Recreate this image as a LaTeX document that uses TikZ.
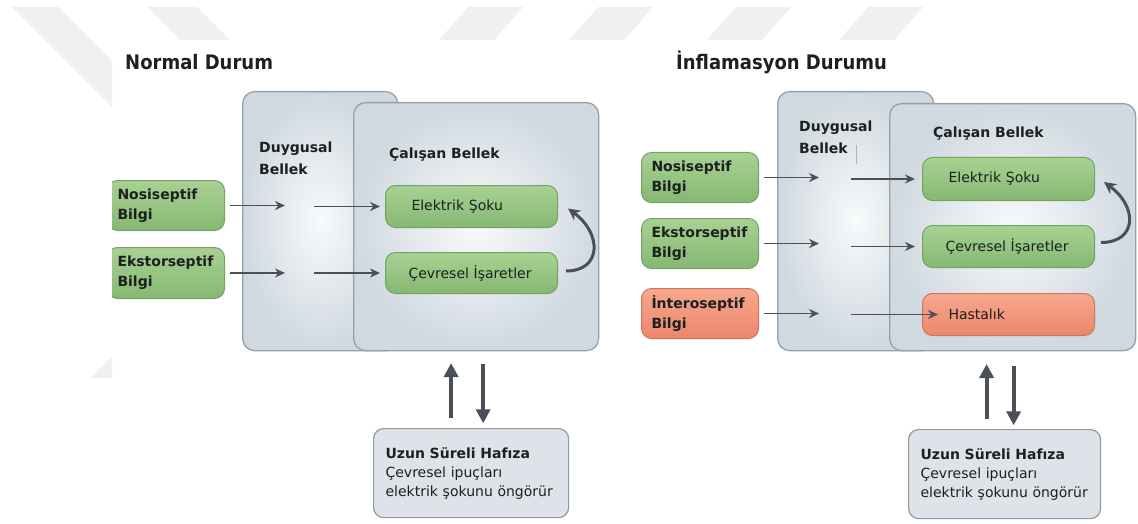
\documentclass[tikz,border=0pt]{standalone}
\usepackage{fontspec}
\setmainfont{DejaVu Sans}
\newfontfamily\condfont{DejaVu Sans Condensed}
\usetikzlibrary{arrows.meta}

\definecolor{wmgray}{RGB}{240,240,240}
\definecolor{memgray}{RGB}{208,217,224}
\definecolor{memlight}{RGB}{248,250,251}
\definecolor{memedge}{RGB}{150,160,168}
\definecolor{leaftop}{RGB}{168,209,148}
\definecolor{leafbot}{RGB}{134,184,114}
\definecolor{leafedge}{RGB}{116,162,98}
\definecolor{salmontop}{RGB}{247,168,142}
\definecolor{salmonbot}{RGB}{236,134,108}
\definecolor{salmonedge}{RGB}{204,118,98}
\definecolor{ltmfill}{RGB}{221,227,232}
\definecolor{ltmedge}{RGB}{145,152,158}
\definecolor{arrowgray}{RGB}{74,80,86}
\definecolor{inktext}{RGB}{28,32,30}

\tikzset{
  membox/.style={draw=memedge, line width=1.3pt, rounded corners=12pt,
    inner color=memlight, outer color=memgray, anchor=north west},
  memtitle/.style={font=\bfseries\fontsize{14}{22}\selectfont, text=inktext,
    align=left, inner sep=0pt},
  srcbox/.style={draw=leafedge, line width=1pt, rounded corners=10pt,
    top color=leaftop, bottom color=leafbot, anchor=north west,
    minimum width=117pt, minimum height=50pt, text width=97pt, inner xsep=10pt,
    align=left, font=\bfseries\fontsize{14}{20}\selectfont, text=inktext},
  painbox/.style={srcbox, draw=salmonedge, top color=salmontop, bottom color=salmonbot},
  itembox/.style={srcbox, minimum width=172pt, text width=120pt, inner xsep=26pt,
    font=\fontsize{14}{18}\selectfont},
  widetext/.style={text width=126pt, inner xsep=23pt},
  sickbox/.style={itembox, draw=salmonedge, top color=salmontop, bottom color=salmonbot},
  ltmbox/.style={draw=ltmedge, line width=1.2pt, rounded corners=10pt, fill=ltmfill,
    anchor=north west, minimum width=195pt, minimum height=89pt, text width=171pt,
    inner xsep=12pt, align=left, font=\fontsize{14}{19}\selectfont, text=inktext},
  headline/.style={font=\condfont\bfseries\fontsize{20}{24}\selectfont, text=inktext,
    anchor=base west, inner sep=0pt},
  flow/.style={draw=arrowgray, line width=1.9pt, -{Stealth[length=10pt,width=9pt]}},
  loopback/.style={draw=arrowgray, line width=3pt, -{Stealth[length=12pt,width=12pt]}},
  bigarrow/.style={draw=arrowgray, line width=4pt, -{Triangle[length=14pt,width=14pt]}}
}

\begin{document}
\begin{tikzpicture}[x=1pt,y=-1pt]
  \useasboundingbox (0,0) rectangle (1138,524);

  % Watermark
  \fill[wmgray] (12,7) -- (58,7) -- (112,61) -- (112,107) -- cycle;
  \fill[wmgray] (147,7) -- (197,7) -- (230,40) -- (180,40) -- cycle;
  \foreach \x in {439,569,707,839} {
    \fill[wmgray] (\x,40) -- (\x+55,40) -- (\x+84,7) -- (\x+29,7) -- cycle;
  }
  \fill[wmgray] (90,378) -- (112,356) -- (112,378) -- cycle;

  % Titles
  \node[headline] (titleL) at (125,70) {Normal Durum};
  \node[headline] (titleR) at (676,70) {İnflamasyon Durumu};

  % Memory boxes
  \node[membox, minimum width=155pt, minimum height=259pt] (dgL) at (242,91) {};
  \node[membox, minimum width=245pt, minimum height=248pt] (calL) at (353,102) {};
  \node[membox, minimum width=156pt, minimum height=259pt] (dgR) at (777,91) {};
  \node[membox, minimum width=246pt, minimum height=247pt] (calR) at (889,103) {};

  \node[memtitle, anchor=north west] (dgLlab) at (259,142) {Duygusal\\Bellek};
  \node[memtitle, anchor=base west] (calLlab) at (389,158) {Çalışan Bellek};
  \node[memtitle, anchor=north west] (dgRlab) at (799,121) {Duygusal\\Bellek};
  \node[memtitle, anchor=base west] (calRlab) at (933,138) {Çalışan Bellek};
  \draw[gray!60, line width=0.7pt] (856,145) -- (856,164);

  % Input boxes
  \begin{scope}
    \clip (112,0) rectangle (1138,524);
    \node[srcbox] (nosL) at (107,180) {Nosiseptif\\Bilgi};
    \node[srcbox, minimum height=51pt] (ekL) at (107,247) {Ekstorseptif\\Bilgi};
  \end{scope}
  \node[srcbox] (nosR) at (641,152) {Nosiseptif\\Bilgi};
  \node[srcbox] (ekR) at (641,218) {Ekstorseptif\\Bilgi};
  \node[painbox] (intR) at (641,288) {İnteroseptif\\Bilgi};

  % Working memory items
  \node[itembox, minimum height=42pt] (elekL) at (385,185) {Elektrik Şoku};
  \node[itembox, widetext, minimum height=41pt] (cevL) at (385,252) {Çevresel İşaretler};
  \node[itembox, minimum height=43pt] (elekR) at (922,157) {Elektrik Şoku};
  \node[itembox, widetext, minimum height=42pt] (cevR) at (922,225) {Çevresel İşaretler};
  \node[sickbox, minimum height=42pt] (hasR) at (922,293) {Hastalık};

  % Long term memory
  \node[ltmbox] (uzunL) at (373,428)
    {\textbf{Uzun Süreli Hafıza}\\Çevresel ipuçları\\elektrik şokunu öngörür};
  \node[ltmbox, minimum width=192pt, text width=168pt] (uzunR) at (908,429)
    {\textbf{Uzun Süreli Hafıza}\\Çevresel ipuçları\\elektrik şokunu öngörür};

  % Flow arrows
  \foreach \src/\dst/\e in {nosL/elekL/-5, ekL/cevL/-5, nosR/elekR/-7, ekR/cevR/-7, intR/hasR/16} {
    \draw[flow] ([xshift=5pt]\src.east) -- ++(55,0);
    \draw[flow] ([xshift=-71pt]\dst.west) -- ([xshift=\e pt]\dst.west);
  }

  % Rehearsal loop
  \draw[loopback] ([xshift=8pt,yshift=2pt]cevL.east) .. controls +(36,0) and +(34,25) .. ([xshift=10pt,yshift=-2pt]elekL.east);
  \draw[loopback] ([xshift=6pt,yshift=4pt]cevR.east) .. controls +(36,0) and +(34,25) .. ([xshift=9pt,yshift=-3pt]elekR.east);

  % Exchange with long term memory
  \draw[bigarrow] ([xshift=-20pt,yshift=10pt]uzunL.north) -- ++(0,-55);
  \draw[bigarrow] ([xshift=7pt,yshift=-13pt]calL.south) -- ++(0,59);
  \draw[bigarrow] ([xshift=-18pt,yshift=10pt]uzunR.north) -- ++(0,-55);
  \draw[bigarrow] ([xshift=1pt,yshift=-15pt]calR.south) -- ++(0,59);
\end{tikzpicture}
\end{document}
